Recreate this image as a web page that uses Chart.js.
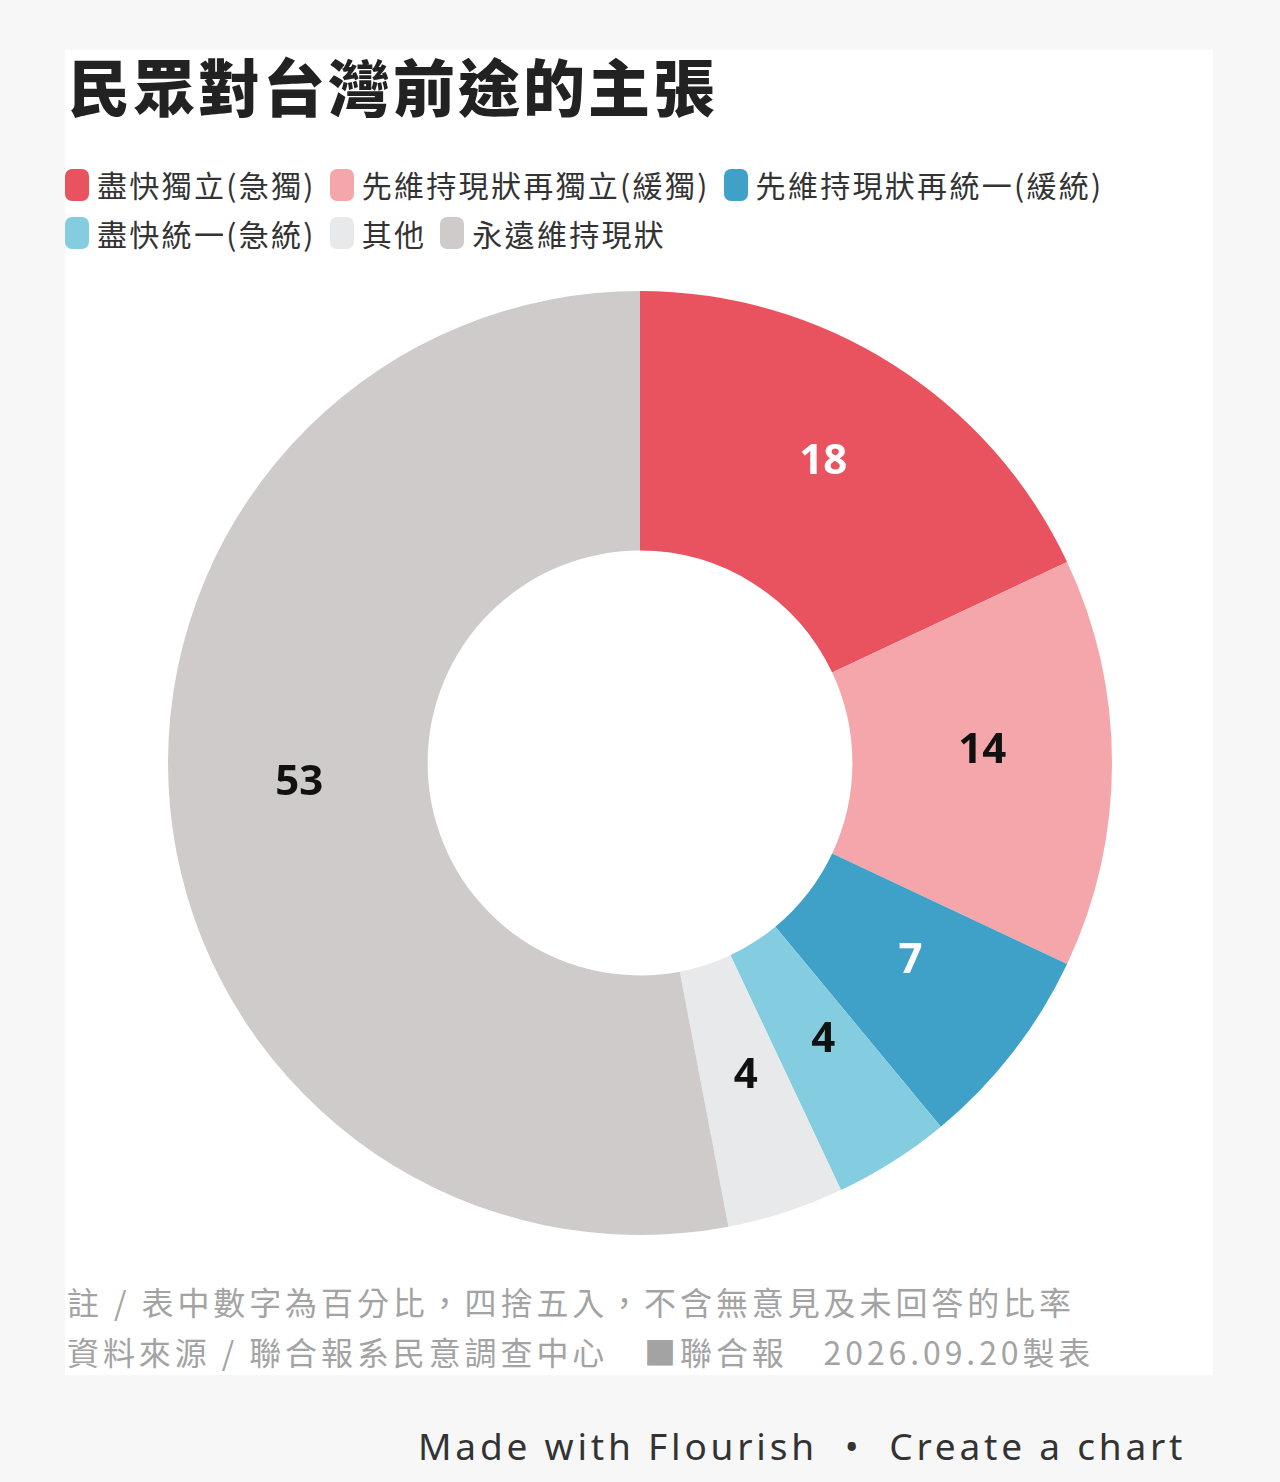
<!DOCTYPE html>
<html><head><meta charset="utf-8">
<script src="https://cdn.jsdelivr.net/npm/chart.js@4"></script>
<style>
body{margin:0;background:#f7f7f7;width:1280px;height:1482px;position:relative;font-family:"Noto Sans CJK TC","Noto Sans",sans-serif;overflow:hidden}
#card{position:absolute;left:65px;top:50px;width:1148px;height:1325px;background:#fff}
#title{position:absolute;left:3px;top:-5px;font-size:62px;font-weight:900;color:#222;line-height:80px;letter-spacing:3px}
#legend{position:absolute;left:0;top:112px;width:1145px;font-size:30px;color:#333;line-height:45px;letter-spacing:2.3px}
.li{display:inline-flex;align-items:center;margin-right:14px;white-space:nowrap}
.sw{display:inline-block;width:24px;height:32px;border-radius:7px;margin-right:8px}
#wrap{position:absolute;left:0;top:230px;width:1150px;height:966px}
.note{position:absolute;left:2px;font-size:32px;color:#a3a3a3;white-space:pre;letter-spacing:3.9px}
#flour{position:absolute;left:418px;top:1420px;font-size:37px;color:#333;letter-spacing:3.8px;font-family:"Noto Sans",sans-serif;white-space:pre}
</style></head><body>
<div id="card">
<div id="title">民眾對台灣前途的主張</div>
<div id="legend"></div>
<div id="wrap"><canvas id="c"></canvas></div>
<div class="note" style="top:1228px">註 / 表中數字為百分比，四捨五入，不含無意見及未回答的比率</div>
<div class="note" style="top:1278px">資料來源 / 聯合報系民意調查中心　■聯合報　2026.09.20製表</div>
</div>
<div id="flour">Made with Flourish  •  Create a chart</div>
<script>
const categories=["盡快獨立(急獨)","先維持現狀再獨立(緩獨)","先維持現狀再統一(緩統)","盡快統一(急統)","其他","永遠維持現狀"];
const values=[18,14,7,4,4,53];
const colors=["#e9535f","#f4a6ab","#3fa1c8","#84cde0","#e8e9eb","#d0cbcb"];
const labelColors=["#fff","#111","#fff","#111","#111","#111"];
const lg=document.getElementById('legend');
categories.forEach((c,i)=>{lg.innerHTML+=`<span class="li"><span class="sw" style="background:${colors[i]}"></span>${c}</span>`;if(i===2)lg.innerHTML+='<br>';});
const lbl={id:'lbl',afterDatasetsDraw(ch){const ctx=ch.ctx;ch.getDatasetMeta(0).data.forEach((a,i)=>{const p=a.tooltipPosition();ctx.save();ctx.font='bold 42px "Noto Sans","Roboto",sans-serif';ctx.fillStyle=labelColors[i];ctx.textAlign='center';ctx.textBaseline='middle';ctx.fillText(values[i],p.x,p.y-12);ctx.restore();});}};
new Chart(document.getElementById('c'),{type:'doughnut',data:{labels:categories,datasets:[{data:values,backgroundColor:colors,borderWidth:0}]},
options:{responsive:true,maintainAspectRatio:false,animation:false,cutout:'45%',layout:{padding:11},plugins:{legend:{display:false},tooltip:{enabled:false}}},plugins:[lbl]});
</script></body></html>
